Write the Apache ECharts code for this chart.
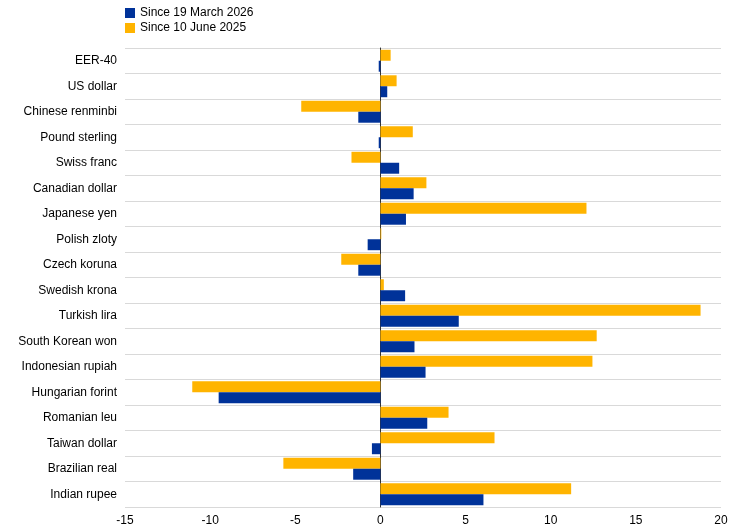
<!DOCTYPE html>
<html>
<head>
<meta charset="utf-8">
<script src="https://cdn.jsdelivr.net/npm/echarts@6/dist/echarts.min.js"></script>
<style>html,body{margin:0;padding:0;background:#fff}#main{width:744px;height:532px}</style>
</head>
<body>
<div id="main"></div>
<script>
var categories = ['EER-40','US dollar','Chinese renminbi','Pound sterling','Swiss franc','Canadian dollar','Japanese yen','Polish zloty','Czech koruna','Swedish krona','Turkish lira','South Korean won','Indonesian rupiah','Hungarian forint','Romanian leu','Taiwan dollar','Brazilian real','Indian rupee'];
var sinceMarch2026 = [-0.1,0.4,-1.3,-0.1,1.1,1.95,1.5,-0.75,-1.3,1.45,4.6,2.0,2.65,-9.5,2.75,-0.5,-1.6,6.05];
var sinceJune2025 = [0.6,0.95,-4.65,1.9,-1.7,2.7,12.1,0.05,-2.3,0.2,18.8,12.7,12.45,-11.05,4.0,6.7,-5.7,11.2];

var chart = echarts.init(document.getElementById('main'));
chart.setOption({
    animation: false,
    textStyle: {fontFamily: 'Arial, Liberation Sans', color: '#000'},
    legend: {
        data: ['Since 19 March 2026', 'Since 10 June 2025'],
        orient: 'vertical', left: 120, top: 2, itemGap: 3,
        itemWidth: 10, itemHeight: 10, icon: 'rect',
        textStyle: {fontSize: 12, color: '#000'}
    },
    grid: {left: 125, right: 23, top: 48, bottom: 25},
    xAxis: {
        type: 'value', min: -15, max: 20, interval: 5,
        axisLabel: {fontSize: 12, color: '#000'},
        axisLine: {show: false}, axisTick: {show: false},
        splitLine: {show: false}
    },
    yAxis: {
        type: 'category', data: categories, inverse: true,
        axisLabel: {fontSize: 12, color: '#000', margin: 8},
        axisLine: {show: true, onZero: true, lineStyle: {color: '#333'}},
        axisTick: {show: false},
        splitLine: {show: true, lineStyle: {color: '#d9d9d9'}}
    },
    series: [
        {name: 'Since 10 June 2025', type: 'bar', data: sinceJune2025, itemStyle: {color: '#ffb400'}, barGap: '0%', barCategoryGap: '14%'},
        {name: 'Since 19 March 2026', type: 'bar', data: sinceMarch2026, itemStyle: {color: '#003299'}, barGap: '0%', barCategoryGap: '14%'}
    ]
});
</script>
</body>
</html>
